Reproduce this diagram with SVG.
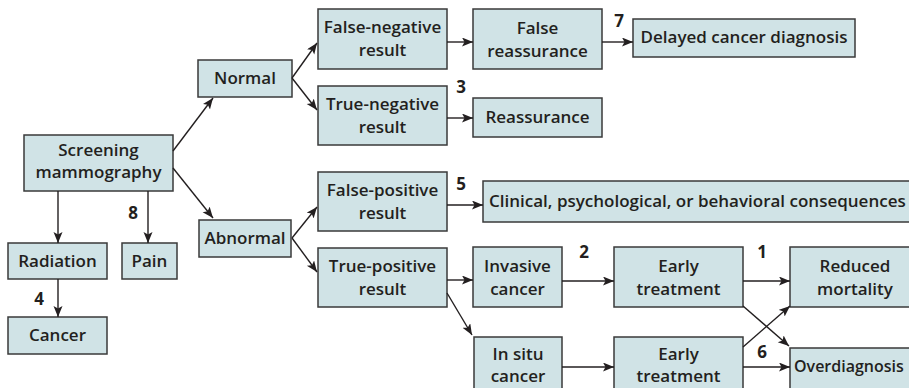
<svg xmlns="http://www.w3.org/2000/svg" width="909" height="388" viewBox="0 0 909 388">
<defs>
<marker id="ah" markerUnits="userSpaceOnUse" markerWidth="12" markerHeight="10" refX="11" refY="4.5" orient="auto">
<path d="M0,0 L11,4.5 L0,9 L2.5,4.5 Z" fill="#231f20"/>
</marker>
<style>
.b{fill:#d0e3e6;stroke:#3a3a3a;stroke-width:1.5}
text{font-family:"Open Sans","Noto Sans","Liberation Sans",sans-serif;font-weight:600;font-size:17px;fill:#231f20;text-anchor:middle}
.n{font-weight:700}
.c line{stroke:#231f20;stroke-width:1.4;marker-end:url(#ah)}
</style>
</defs>
<rect width="909" height="388" fill="#ffffff"/>
<g id="screening"><rect class="b" x="24" y="135" width="149" height="56"/><text x="98.5" y="156">Screening</text><text x="98.5" y="178">mammography</text></g>
<g id="radiation"><rect class="b" x="8" y="243" width="99" height="36"/><text x="57.5" y="267">Radiation</text></g>
<g id="pain"><rect class="b" x="122" y="243" width="55" height="36"/><text x="149.5" y="267">Pain</text></g>
<g id="cancer"><rect class="b" x="8" y="317" width="99" height="37"/><text x="57.5" y="341">Cancer</text></g>
<g id="normal"><rect class="b" x="198" y="60" width="94" height="37"/><text x="245" y="84">Normal</text></g>
<g id="abnormal"><rect class="b" x="199" y="220" width="92" height="37"/><text x="245" y="244">Abnormal</text></g>
<g id="false-negative"><rect class="b" x="318" y="9" width="129" height="60"/><text x="382.5" y="33">False-negative</text><text x="382.5" y="56">result</text></g>
<g id="true-negative"><rect class="b" x="318" y="86" width="129" height="59"/><text x="382.5" y="110">True-negative</text><text x="382.5" y="133">result</text></g>
<g id="false-reassurance"><rect class="b" x="473" y="9" width="129" height="60"/><text x="537.5" y="34">False</text><text x="537.5" y="57">reassurance</text></g>
<g id="delayed"><rect class="b" x="633" y="19" width="222" height="38"/><text x="744" y="43">Delayed cancer diagnosis</text></g>
<g id="reassurance"><rect class="b" x="473" y="98" width="129" height="39"/><text x="537.5" y="123">Reassurance</text></g>
<g id="false-positive"><rect class="b" x="318" y="172" width="129" height="59"/><text x="382.5" y="196">False-positive</text><text x="382.5" y="219">result</text></g>
<g id="consequences"><rect class="b" x="483" y="181" width="440" height="41"/><text x="489" y="207" style="text-anchor:start">Clinical, psychological, or behavioral consequences</text></g>
<g id="true-positive"><rect class="b" x="318" y="248" width="129" height="59"/><text x="382.5" y="272">True-positive</text><text x="382.5" y="295">result</text></g>
<g id="invasive"><rect class="b" x="473" y="247" width="89" height="60"/><text x="517.5" y="272">Invasive</text><text x="517.5" y="295">cancer</text></g>
<g id="early1"><rect class="b" x="614" y="247" width="129" height="60"/><text x="678.5" y="272">Early</text><text x="678.5" y="295">treatment</text></g>
<g id="reduced"><rect class="b" x="790" y="247" width="130" height="60"/><text x="855" y="272">Reduced</text><text x="855" y="295">mortality</text></g>
<g id="insitu"><rect class="b" x="474" y="337" width="88" height="60"/><text x="518" y="360">In situ</text><text x="518" y="382">cancer</text></g>
<g id="early2"><rect class="b" x="614" y="337" width="129" height="60"/><text x="678.5" y="360">Early</text><text x="678.5" y="382">treatment</text></g>
<g id="overdiagnosis"><rect class="b" x="790" y="348" width="130" height="45"/><text x="794" y="372" style="text-anchor:start;font-size:16px">Overdiagnosis</text></g>
<g id="connectors" class="c">
<line x1="173" y1="151" x2="213" y2="98"/>
<line x1="173" y1="168" x2="213" y2="218"/>
<line x1="58" y1="191" x2="58" y2="243"/>
<line x1="148" y1="191" x2="148" y2="243"/>
<line x1="58" y1="279" x2="58" y2="317"/>
<line x1="292" y1="78" x2="317" y2="43"/>
<line x1="292" y1="78" x2="317" y2="110"/>
<line x1="447" y1="42" x2="473" y2="42"/>
<line x1="447" y1="118" x2="473" y2="118"/>
<line x1="602" y1="42" x2="633" y2="42"/>
<line x1="292" y1="238" x2="317" y2="207"/>
<line x1="292" y1="238" x2="317" y2="272"/>
<line x1="447" y1="205" x2="483" y2="205"/>
<line x1="447" y1="280" x2="473" y2="280"/>
<line x1="447" y1="293" x2="472" y2="335"/>
<line x1="562" y1="281" x2="614" y2="281"/>
<line x1="743" y1="281" x2="790" y2="281"/>
<line x1="743" y1="306" x2="789" y2="346"/>
<line x1="562" y1="367" x2="614" y2="367"/>
<line x1="743" y1="347" x2="790" y2="306"/>
<line x1="743" y1="367" x2="790" y2="367"/>
</g>
<g id="numbers">
<text class="n" x="619" y="27">7</text>
<text class="n" x="461" y="93">3</text>
<text class="n" x="133" y="219">8</text>
<text class="n" x="39" y="305">4</text>
<text class="n" x="461" y="190">5</text>
<text class="n" x="584" y="258">2</text>
<text class="n" x="762" y="258">1</text>
<text class="n" x="762" y="358">6</text>
</g>
</svg>
